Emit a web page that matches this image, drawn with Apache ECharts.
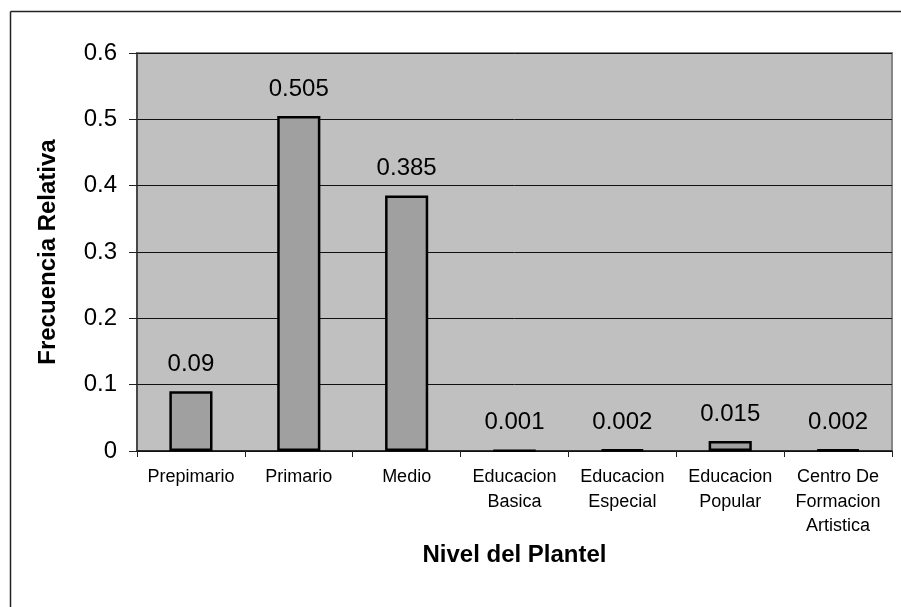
<!DOCTYPE html>
<html>
<head>
<meta charset="utf-8">
<script src="https://cdn.jsdelivr.net/npm/echarts@6/dist/echarts.min.js"></script>
<style>
  html, body { margin: 0; padding: 0; background: #ffffff; }
  #chart { width: 901px; height: 607px; }
</style>
</head>
<body>
<div id="chart"></div>
<script>
const categories = ['Prepimario', 'Primario', 'Medio', 'Educacion\nBasica', 'Educacion\nEspecial', 'Educacion\nPopular', 'Centro De\nFormacion\nArtistica'];
const values = [0.09, 0.505, 0.385, 0.001, 0.002, 0.015, 0.002];
const valueLabels = ['0.09', '0.505', '0.385', '0.001', '0.002', '0.015', '0.002'];
const yTicks = [0, 0.1, 0.2, 0.3, 0.4, 0.5, 0.6];
const xTitle = 'Nivel del Plantel';
const yTitle = 'Frecuencia Relativa';

const FONT = '"Liberation Sans", Arial, sans-serif';
const chart = echarts.init(document.getElementById('chart'), null, { renderer: 'canvas' });

chart.setOption({
  animation: false,
  backgroundColor: '#ffffff',
  textStyle: { fontFamily: FONT },
  graphic: [
    { type: 'line', shape: { x1: 10.5, y1: 11.5, x2: 901, y2: 11.5 }, style: { stroke: '#222', lineWidth: 1.5 } },
    { type: 'line', shape: { x1: 10.5, y1: 11.5, x2: 10.5, y2: 607 }, style: { stroke: '#222', lineWidth: 1.5 } }
  ],
  grid: {
    left: 137, right: 9, top: 53, bottom: 156,
    show: true, backgroundColor: '#c0c0c0', borderColor: '#868686', borderWidth: 2
  },
  xAxis: {
    type: 'category',
    data: categories,
    name: xTitle,
    nameLocation: 'middle',
    nameGap: 88,
    nameTextStyle: { fontFamily: FONT, fontSize: 24, fontWeight: 'bold', color: '#000' },
    axisLine: { show: true, lineStyle: { color: '#111', width: 1.5 } },
    axisTick: { show: true, length: 6, lineStyle: { color: '#222', width: 1 } },
    axisLabel: { fontFamily: FONT, fontSize: 18, color: '#000', lineHeight: 24.5, margin: 14, interval: 0 },
    splitLine: { show: false }
  },
  yAxis: {
    type: 'value',
    min: yTicks[0], max: yTicks[yTicks.length - 1], interval: 0.1,
    name: yTitle,
    nameLocation: 'middle',
    nameGap: 77,
    nameRotate: 90,
    nameTextStyle: { fontFamily: FONT, fontSize: 24, fontWeight: 'bold', color: '#000' },
    axisLine: { show: true, lineStyle: { color: '#333', width: 1.5 } },
    axisTick: { show: true, length: 8, lineStyle: { color: '#222', width: 1 } },
    axisLabel: { fontFamily: FONT, fontSize: 24, color: '#000', margin: 20,
      formatter: v => String(Math.round(v * 10) / 10) },
    splitLine: { show: true, lineStyle: { color: '#111', width: 1 } }
  },
  series: [{
    type: 'bar',
    data: values,
    barWidth: '40%',
    itemStyle: { color: '#a0a0a0', borderColor: '#000', borderWidth: 2.5 },
    label: {
      show: true, position: 'top', distance: 15,
      fontFamily: FONT, fontSize: 24, color: '#000',
      formatter: p => valueLabels[p.dataIndex]
    }
  }]
});
</script>
</body>
</html>
